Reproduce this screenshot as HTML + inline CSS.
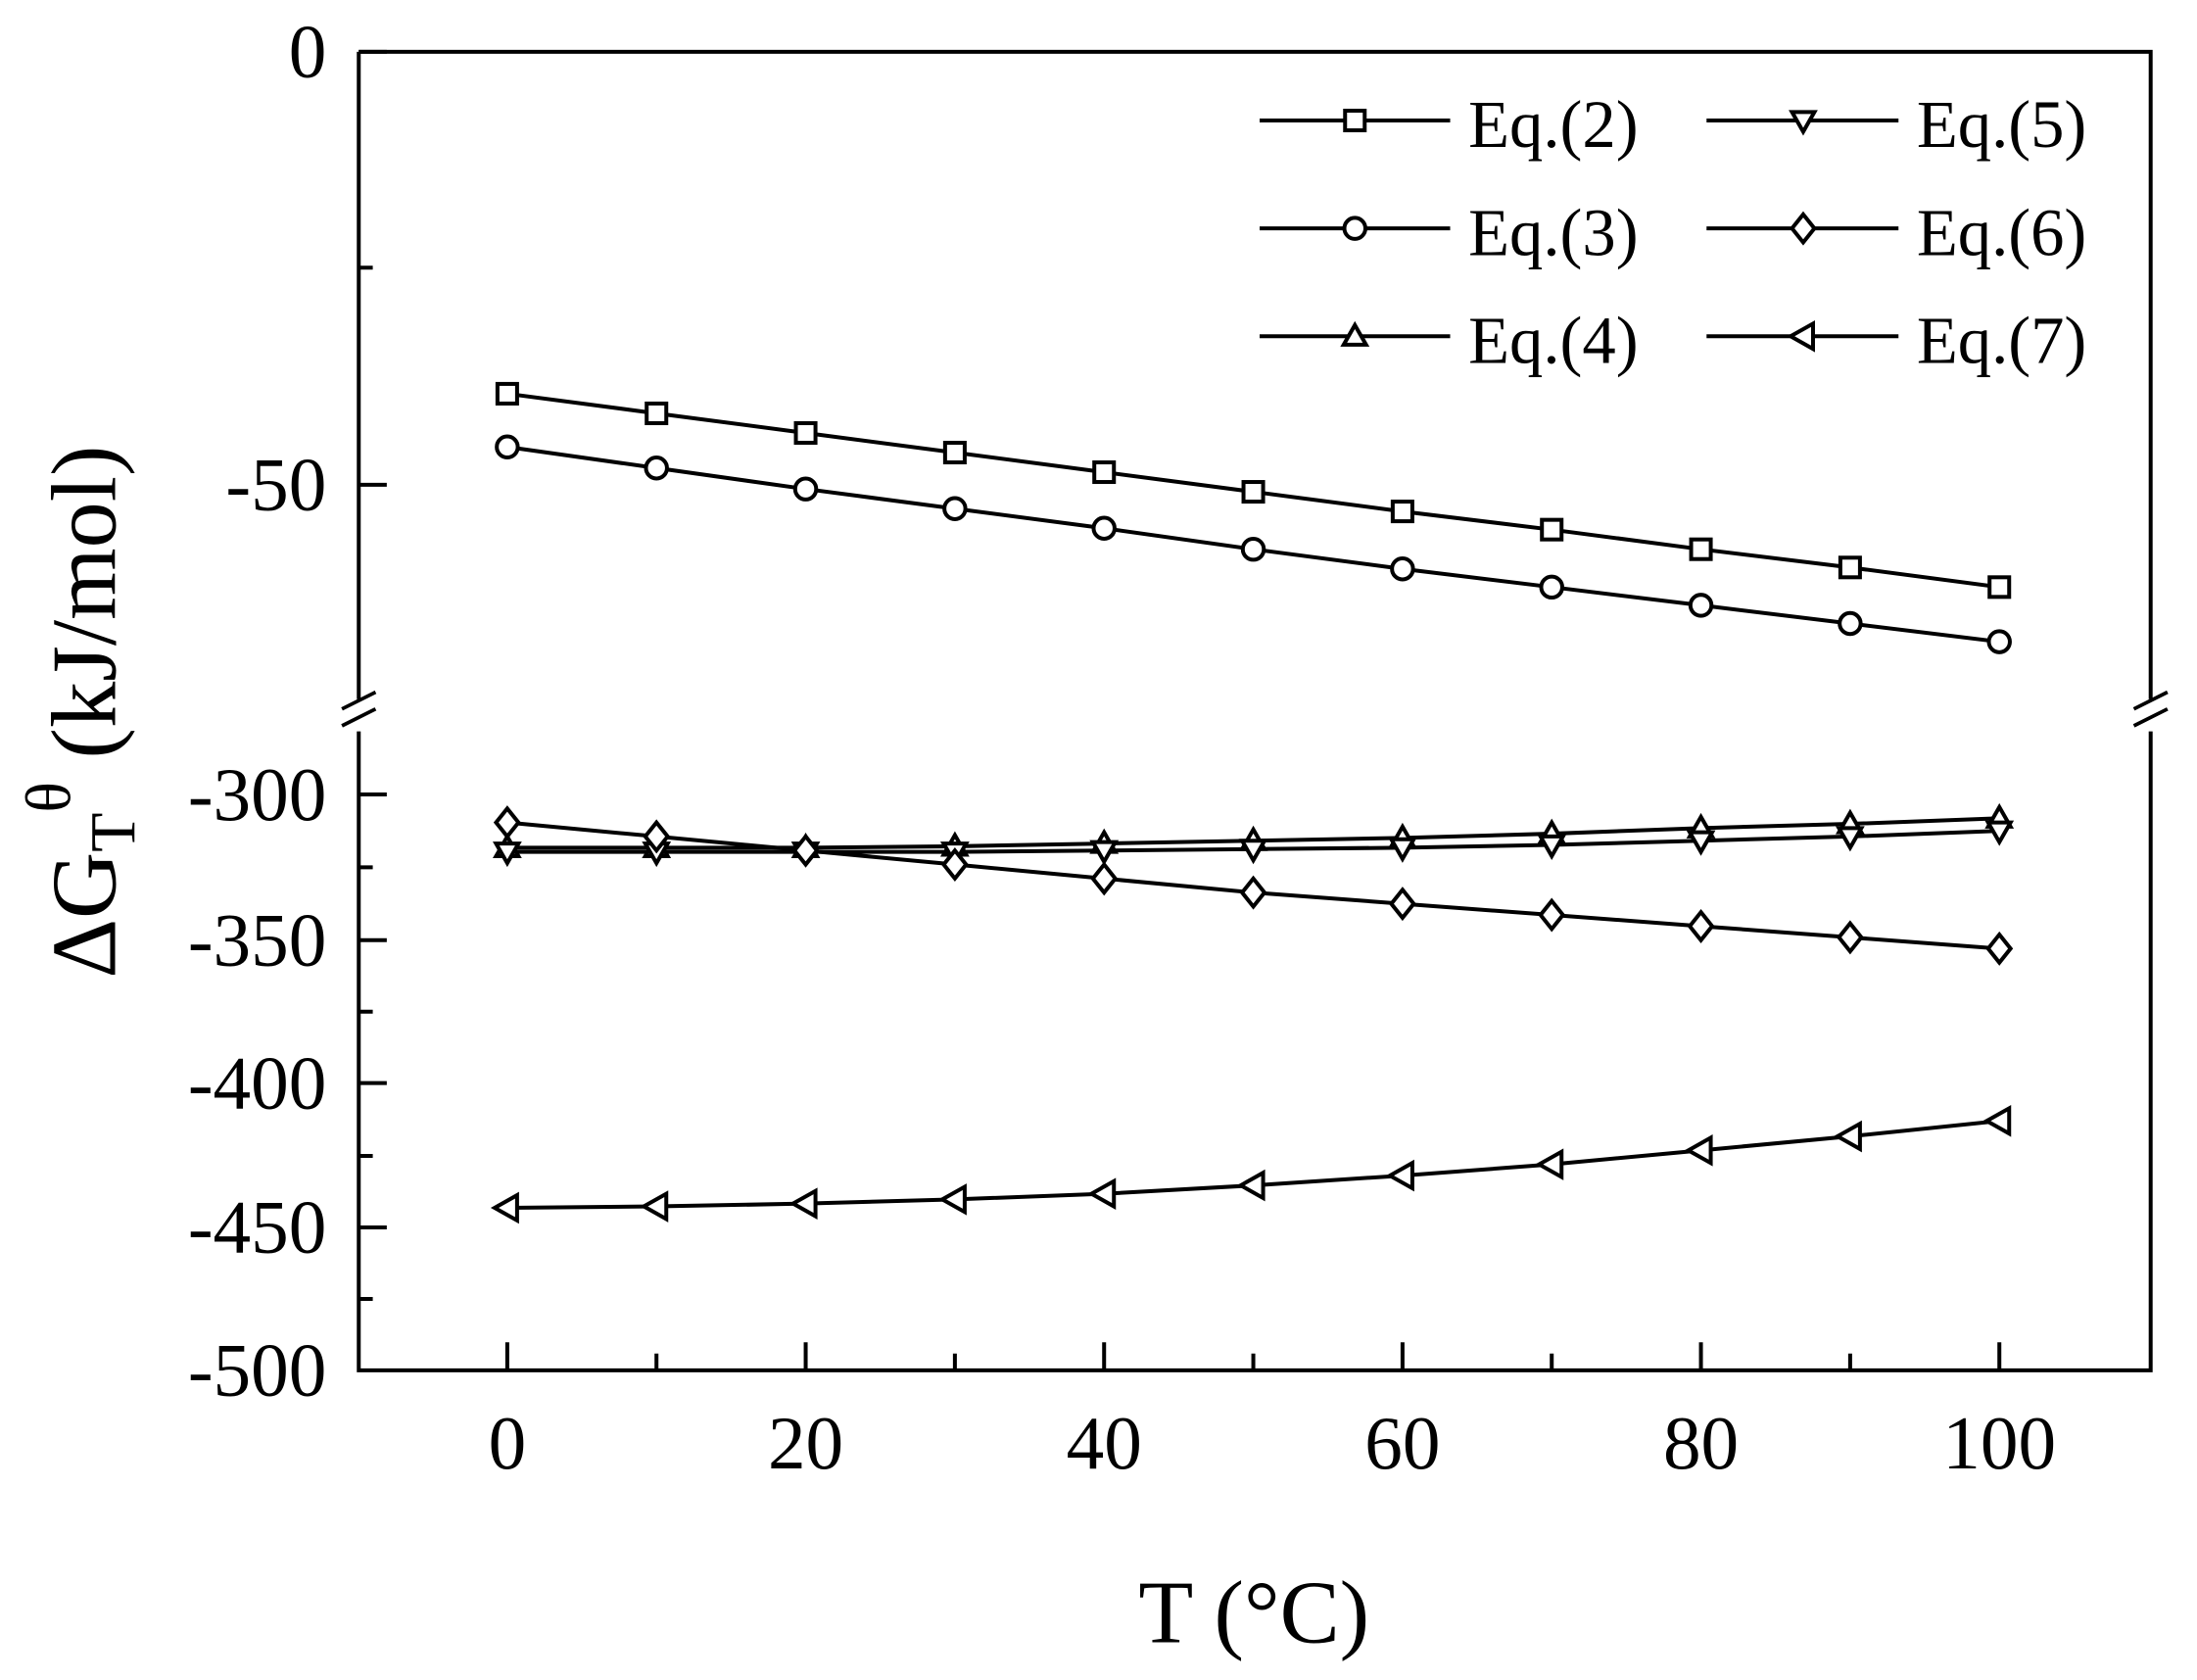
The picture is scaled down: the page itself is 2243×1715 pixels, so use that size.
<!DOCTYPE html>
<html><head><meta charset="utf-8"><style>html,body{margin:0;padding:0;background:#fff}svg{display:block}</style></head>
<body>
<svg xmlns="http://www.w3.org/2000/svg" width="2243" height="1715" viewBox="0 0 1568 1199" font-family="Liberation Serif, serif">
<rect width="1568" height="1199" fill="#fff"/>
<g stroke="#000" stroke-width="2.8" fill="none">
<path d="M256,37 H1535 V499 M1535,522 V978 H256 V522 M256,499 V37"/>
<path d="M244,506 L268,494 M244,518 L268,506 M1523,506 L1547,494 M1523,518 L1547,506" stroke-width="2.6"/>
<path d="M256,37 h20 M256,191 h10 M256,346 h20 M256,567 h20 M256,619 h10 M256,671 h20 M256,722 h10 M256,773 h20 M256,825 h10 M256,876 h20 M256,927 h10"/>
<path d="M362,978 v-20 M468.5,978 v-12 M575,978 v-20 M681.5,978 v-12 M788,978 v-20 M894.5,978 v-12 M1001,978 v-20 M1107.5,978 v-12 M1214,978 v-20 M1320.5,978 v-12 M1427,978 v-20"/>
</g>
<g font-size="54" text-anchor="end">
<text x="233" y="55">0</text>
<text x="233" y="364">-50</text>
<text x="233" y="585">-300</text>
<text x="233" y="689">-350</text>
<text x="233" y="791">-400</text>
<text x="233" y="894">-450</text>
<text x="233" y="996">-500</text>
</g>
<g font-size="54" text-anchor="middle">
<text x="362" y="1048">0</text>
<text x="575" y="1048">20</text>
<text x="788" y="1048">40</text>
<text x="1001" y="1048">60</text>
<text x="1214" y="1048">80</text>
<text x="1427" y="1048">100</text>
</g>
<text x="895" y="1172" font-size="64" text-anchor="middle">T (°C)</text>
<text transform="translate(82,508) rotate(-90)" font-size="66" text-anchor="middle">ΔG<tspan font-size="46" dy="14">T</tspan><tspan font-size="46" dy="-46">θ</tspan><tspan dy="32" font-size="66">   (kJ/mol)</tspan></text>

<defs>
<rect id="sq" x="-7" y="-7" width="14" height="14" fill="#fff" stroke="#000" stroke-width="2.8"/>
<circle id="ci" r="7.5" fill="#fff" stroke="#000" stroke-width="2.8"/>
<path id="tu" d="M0,-8 L8,6 L-8,6 Z" fill="#fff" stroke="#000" stroke-width="2.8"/>
<path id="td" d="M0,8 L8,-6 L-8,-6 Z" fill="#fff" stroke="#000" stroke-width="2.8"/>
<path id="di" d="M0,-10 L8,0 L0,10 L-8,0 Z" fill="#fff" stroke="#000" stroke-width="2.8"/>
<path id="tl" d="M-9,0 L7,-9 L7,9 Z" fill="#fff" stroke="#000" stroke-width="2.8"/>
</defs>
<g stroke="#000" stroke-width="2.8" fill="none">
<polyline points="362,281 468.5,295 575,309 681.5,323 788,337 894.5,351 1001,365 1107.5,378 1214,392 1320.5,405 1427,419"/>
<polyline points="362,319 468.5,334 575,349 681.5,363 788,377 894.5,392 1001,406 1107.5,419 1214,432 1320.5,445 1427,458"/>
<polyline points="362,605 468.5,605 575,605 681.5,604 788,602 894.5,600 1001,598 1107.5,595 1214,591 1320.5,588 1427,584"/>
<polyline points="362,608 468.5,608 575,608 681.5,608 788,607 894.5,606 1001,605 1107.5,603 1214,600 1320.5,597 1427,593"/>
<polyline points="362,587 468.5,597 575,607 681.5,617 788,627 894.5,637 1001,645 1107.5,653 1214,661 1320.5,669 1427,677"/>
<polyline points="362,862 468.5,861 575,859 681.5,856 788,852 894.5,846 1001,839 1107.5,831 1214,821 1320.5,811 1427,800"/>
</g>
<g>
<use href="#sq" x="362" y="281"/><use href="#sq" x="468.5" y="295"/><use href="#sq" x="575" y="309"/><use href="#sq" x="681.5" y="323"/><use href="#sq" x="788" y="337"/><use href="#sq" x="894.5" y="351"/><use href="#sq" x="1001" y="365"/><use href="#sq" x="1107.5" y="378"/><use href="#sq" x="1214" y="392"/><use href="#sq" x="1320.5" y="405"/><use href="#sq" x="1427" y="419"/>
<use href="#ci" x="362" y="319"/><use href="#ci" x="468.5" y="334"/><use href="#ci" x="575" y="349"/><use href="#ci" x="681.5" y="363"/><use href="#ci" x="788" y="377"/><use href="#ci" x="894.5" y="392"/><use href="#ci" x="1001" y="406"/><use href="#ci" x="1107.5" y="419"/><use href="#ci" x="1214" y="432"/><use href="#ci" x="1320.5" y="445"/><use href="#ci" x="1427" y="458"/>
<use href="#tu" x="362" y="605"/><use href="#tu" x="468.5" y="605"/><use href="#tu" x="575" y="605"/><use href="#tu" x="681.5" y="604"/><use href="#tu" x="788" y="602"/><use href="#tu" x="894.5" y="600"/><use href="#tu" x="1001" y="598"/><use href="#tu" x="1107.5" y="595"/><use href="#tu" x="1214" y="591"/><use href="#tu" x="1320.5" y="588"/><use href="#tu" x="1427" y="584"/>
<use href="#td" x="362" y="608"/><use href="#td" x="468.5" y="608"/><use href="#td" x="575" y="608"/><use href="#td" x="681.5" y="608"/><use href="#td" x="788" y="607"/><use href="#td" x="894.5" y="606"/><use href="#td" x="1001" y="605"/><use href="#td" x="1107.5" y="603"/><use href="#td" x="1214" y="600"/><use href="#td" x="1320.5" y="597"/><use href="#td" x="1427" y="593"/>
<use href="#di" x="362" y="587"/><use href="#di" x="468.5" y="597"/><use href="#di" x="575" y="607"/><use href="#di" x="681.5" y="617"/><use href="#di" x="788" y="627"/><use href="#di" x="894.5" y="637"/><use href="#di" x="1001" y="645"/><use href="#di" x="1107.5" y="653"/><use href="#di" x="1214" y="661"/><use href="#di" x="1320.5" y="669"/><use href="#di" x="1427" y="677"/>
<use href="#tl" x="362" y="862"/><use href="#tl" x="468.5" y="861"/><use href="#tl" x="575" y="859"/><use href="#tl" x="681.5" y="856"/><use href="#tl" x="788" y="852"/><use href="#tl" x="894.5" y="846"/><use href="#tl" x="1001" y="839"/><use href="#tl" x="1107.5" y="831"/><use href="#tl" x="1214" y="821"/><use href="#tl" x="1320.5" y="811"/><use href="#tl" x="1427" y="800"/>
</g>
<g stroke="#000" stroke-width="2.8">
<path d="M899,86 H1035 M899,163 H1035 M899,240 H1035 M1218,86 H1355 M1218,163 H1355 M1218,240 H1355"/>
</g>
<use href="#sq" x="967" y="86"/><use href="#ci" x="967" y="163"/><use href="#tu" x="967" y="240"/>
<use href="#td" x="1287" y="86"/><use href="#di" x="1287" y="163"/><use href="#tl" x="1287" y="240"/>
<g font-size="48">
<text x="1048" y="105">Eq.(2)</text><text x="1048" y="182">Eq.(3)</text><text x="1048" y="259">Eq.(4)</text>
<text x="1368" y="105">Eq.(5)</text><text x="1368" y="182">Eq.(6)</text><text x="1368" y="259">Eq.(7)</text>
</g>
</svg>
</body></html>
